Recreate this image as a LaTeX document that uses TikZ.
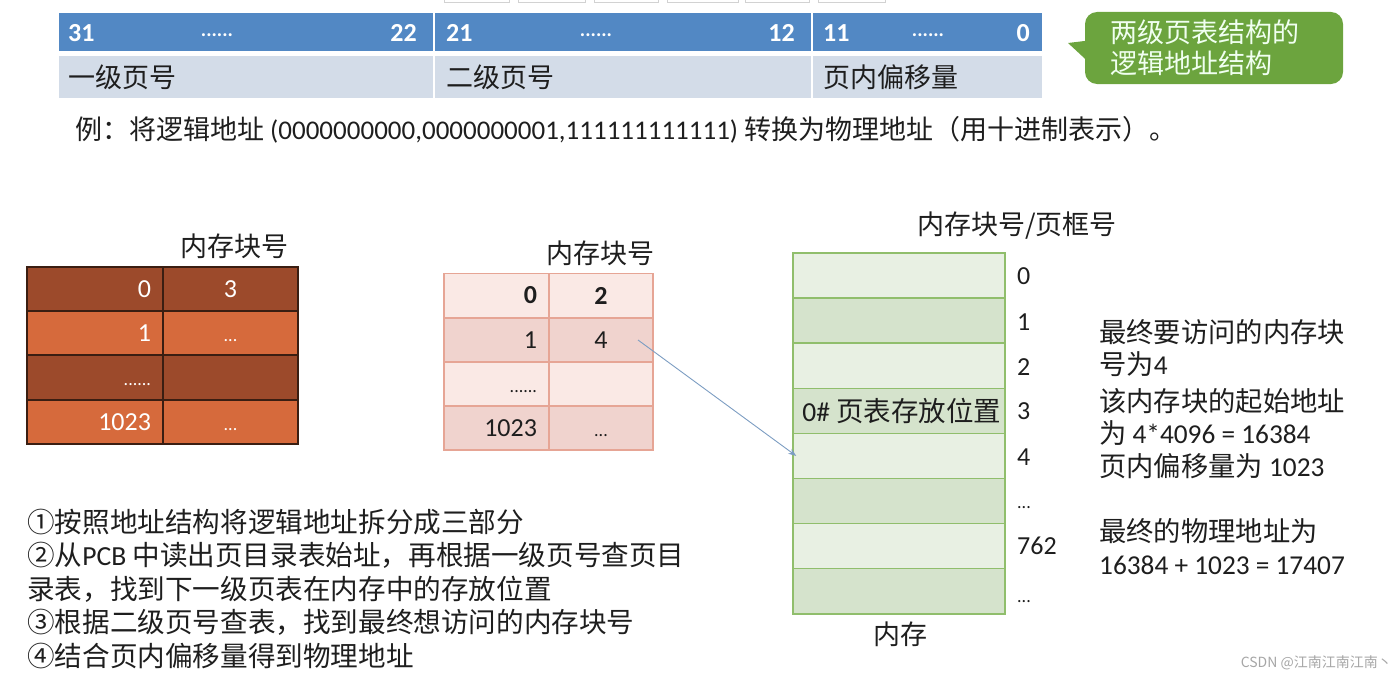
\documentclass[tikz,border=0pt]{standalone}
\usepackage{fontspec}
\setmainfont{Carlito}
\newfontfamily\cjk{Noto Sans CJK SC}
\newfontfamily\lat{Carlito}
\usetikzlibrary{arrows.meta}
\definecolor{hdrblue}{HTML}{5288C4}
\definecolor{hdrlight}{HTML}{D3DCE8}
\definecolor{calgreen}{HTML}{6CA43E}
\definecolor{brdark}{HTML}{9C4A2B}
\definecolor{brorange}{HTML}{D66A3C}
\definecolor{brline}{HTML}{3A1E12}
\definecolor{pklight}{HTML}{FAE9E5}
\definecolor{pkdark}{HTML}{F0D3CE}
\definecolor{pkline}{HTML}{E6A595}
\definecolor{gnlight}{HTML}{E8F0E3}
\definecolor{gndark}{HTML}{D5E3CC}
\definecolor{gnline}{HTML}{90BE6C}
\definecolor{arrowc}{HTML}{7C9DC2}
\definecolor{ink}{HTML}{1E1E1E}
\newcommand{\dotsup}[1]{\vphantom{\fontsize{26}{30}\selectfont 0}#1}
\begin{document}
\begin{tikzpicture}[x=1pt,y=-1pt,
  zh/.style={font=\fontsize{27}{33}\selectfont\cjk, text=ink, inner sep=0pt},
  num/.style={font=\fontsize{26}{30}\selectfont\lat, text=ink, inner sep=0pt},
  hcell/.style={draw=white, line width=2pt, fill=hdrblue, minimum height=40pt, inner sep=0pt},
  lcell/.style={draw=white, line width=2pt, fill=hdrlight, minimum height=44pt, inner sep=0pt},
  hnum/.style={font=\fontsize{26}{28}\selectfont\lat\bfseries, text=white, inner sep=0pt},
  hdots/.style={font=\fontsize{20}{22}\selectfont\lat\bfseries, text=white, inner sep=0pt},
  tab/.style={draw=brline, line width=1.5pt, minimum height=44pt, inner sep=0pt, text=white, font=\fontsize{26}{30}\selectfont\lat},
  ptab/.style={draw=pkline, line width=1.5pt, minimum height=44pt, inner sep=0pt, text=ink, font=\fontsize{26}{30}\selectfont\lat},
  mem/.style={draw=gnline, line width=1.5pt, minimum width=212pt, minimum height=45.1pt, inner sep=0pt},
  tab1/.style={text width=112pt, inner xsep=12pt, align=right},
  tab2/.style={minimum width=135pt},
  ptab1/.style={text width=81pt, inner xsep=12pt, align=right},
  ptab2/.style={minimum width=104pt},
  dots/.style={font=\fontsize{18}{20}\selectfont\lat},
]
\useasboundingbox (0,0) rectangle (1400,677);

% faint tabs at top edge
\foreach \a/\b in {444/509,518/585,594/658,667/738,745/809,818/885}
  \draw[gray!35, line width=1pt, fill=white] (\a,-3) rectangle (\b,3);

% ---- address structure ----
\node[hcell, minimum width=376pt] (b1) at (246,32) {};
\node[hcell, minimum width=378pt] (b2) at (623,32) {};
\node[hcell, minimum width=231pt] (b3) at (927.5,32) {};
\node[lcell, minimum width=376pt] (c1) at (246,77) {};
\node[lcell, minimum width=378pt] (c2) at (623,77) {};
\node[lcell, minimum width=231pt] (c3) at (927.5,77) {};
\node[hnum, anchor=west] (h31) at (68,33) {31};
\node[hdots] (hd1) at (217,35) {......};
\node[hnum, anchor=east] (h22) at (417,33) {22};
\node[hnum, anchor=west] (h21) at (446,33) {21};
\node[hdots] (hd2) at (596,35) {......};
\node[hnum, anchor=east] (h12) at (795,33) {12};
\node[hnum, anchor=west] (h11) at (823,33) {11};
\node[hdots] (hd3) at (928,35) {......};
\node[hnum, anchor=east] (h0) at (1030,33) {0};
\node[zh, anchor=west] (l1) at (68,77) {一级页号};
\node[zh, anchor=west] (l2) at (446,77) {二级页号};
\node[zh, anchor=west] (l3) at (823,77) {页内偏移量};

% callout
\node[fill=calgreen, rounded corners=12pt, minimum width=258pt, minimum height=72pt,
      text width=208pt, inner xsep=25pt, align=left, text=white!94!green,
      font=\fontsize{27}{31}\selectfont\cjk] (callout) at (1214,48) {两级页表结构的\\逻辑地址结构};
\coordinate (tip) at (1068,43);
\fill[calgreen] (tip) -- ([shift={(8pt,-18pt)}]callout.west) -- ([shift={(8pt,8pt)}]callout.west) -- cycle;

% example line
\node[zh, anchor=west] (ex) at (75,130) {例：将逻辑地址 {\lat (0000000000,0000000001,111111111111)} 转换为物理地址（用十进制表示）。};

% ---- first-level table ----
\node[zh] (t1title) at (234,246) {内存块号};
\node[tab, tab1, fill=brdark] (a0) at (95,289) {0};
\node[tab, tab2, fill=brdark] (a0b) at (230.5,289) {3};
\node[tab, tab1, fill=brorange] (a1) at (95,333) {1};
\node[tab, tab2, fill=brorange, dots] (a1b) at (230.5,333) {\dotsup{...}};
\node[tab, tab1, fill=brdark, dots] (a2) at (95,377.5) {\dotsup{......}};
\node[tab, tab2, fill=brdark] (a2b) at (230.5,377.5) {};
\node[tab, tab1, fill=brorange] (a3) at (95,422) {1023};
\node[tab, tab2, fill=brorange, dots] (a3b) at (230.5,422) {\dotsup{...}};

% ---- second-level table ----
\node[zh] (t2title) at (600,253) {内存块号};
\node[ptab, ptab1, fill=pklight, font=\fontsize{26}{30}\selectfont\lat\bfseries] (p0) at (496.5,295.5) {0};
\node[ptab, ptab2, fill=pklight, font=\fontsize{26}{30}\selectfont\lat\bfseries] (p0b) at (601,295.5) {2};
\node[ptab, ptab1, fill=pkdark] (p1) at (496.5,340) {1};
\node[ptab, ptab2, fill=pkdark] (p1b) at (601,340) {4};
\node[ptab, ptab1, fill=pklight, dots] (p2) at (496.5,384) {\dotsup{......}};
\node[ptab, ptab2, fill=pklight] (p2b) at (601,384) {};
\node[ptab, ptab1, fill=pkdark] (p3) at (496.5,428) {1023};
\node[ptab, ptab2, fill=pkdark, dots] (p3b) at (601,428) {\dotsup{...}};

% ---- memory ----
\node[zh] (t3title) at (1017,226) {内存块号/页框号};
\node[mem, fill=gnlight] (m0) at (899,275.55) {};
\node[mem, fill=gndark] (m1) at (899,320.65) {};
\node[mem, fill=gnlight] (m2) at (899,365.75) {};
\node[mem, fill=gndark] (m3) at (899,410.85) {};
\node[mem, fill=gnlight] (m4) at (899,455.95) {};
\node[mem, fill=gndark] (m5) at (899,501.05) {};
\node[mem, fill=gnlight] (m6) at (899,546.15) {};
\node[mem, fill=gndark] (m7) at (899,591.25) {};
\node[zh, anchor=west, font=\fontsize{27.5}{30}\selectfont\cjk] (m3t) at ([xshift=10pt]m3.west) {{\lat 0\#} 页表存放位置};
\node[num, anchor=west] (n0) at (1017,276) {0};
\node[num, anchor=west] (n1) at (1017,322) {1};
\node[num, anchor=west] (n2) at (1017,367) {2};
\node[num, anchor=west] (n3) at (1017,411) {3};
\node[num, anchor=west] (n4) at (1017,457) {4};
\node[num, anchor=west, dots] (n5) at (1017,500) {\dotsup{...}};
\node[num, anchor=west] (n6) at (1017,546) {762};
\node[num, anchor=west, dots] (n7) at (1017,594) {\dotsup{...}};
\node[zh] (memlabel) at (900,634) {内存};

% arrow from second-level entry to block 4
\draw[arrowc, line width=0.9pt, -{Stealth[length=8pt,width=6pt]}] ([xshift=37pt]p1b.center) -- ([xshift=4pt]m4.west);

% ---- right explanation ----
\node[zh, anchor=north west, align=left, font=\fontsize{27.3}{32}\selectfont\cjk] (r1) at (1099,319.5) {最终要访问的内存块\\号为{\lat 4}};
\node[zh, anchor=north west, align=left, font=\fontsize{27.3}{32}\selectfont\cjk] (r2) at (1099,388.5) {该内存块的起始地址\\为 {\lat 4*4096 = 16384}};
\node[zh, anchor=west, font=\fontsize{27.3}{32}\selectfont\cjk] (r3) at (1099,466) {页内偏移量为 {\lat 1023}};
\node[zh, anchor=north west, align=left, font=\fontsize{27.3}{33}\selectfont\cjk] (r4) at (1099,518.5) {最终的物理地址为\\{\lat 16384 + 1023 = 17407}};

% ---- steps ----
\node[zh, anchor=north west, align=left, font=\fontsize{27.6}{33.5}\selectfont\cjk] (steps) at (27,508.5) {①按照地址结构将逻辑地址拆分成三部分\\②从{\lat PCB} 中读出页目录表始址，再根据一级页号查页目\\录表，找到下一级页表在内存中的存放位置\\③根据二级页号查表，找到最终想访问的内存块号\\④结合页内偏移量得到物理地址};

% watermark
\node[font=\fontsize{14}{16}\selectfont\cjk, text=gray!70, anchor=east, inner sep=0pt] (wm) at (1392,663) {CSDN @江南江南江南丶};
\end{tikzpicture}
\end{document}
